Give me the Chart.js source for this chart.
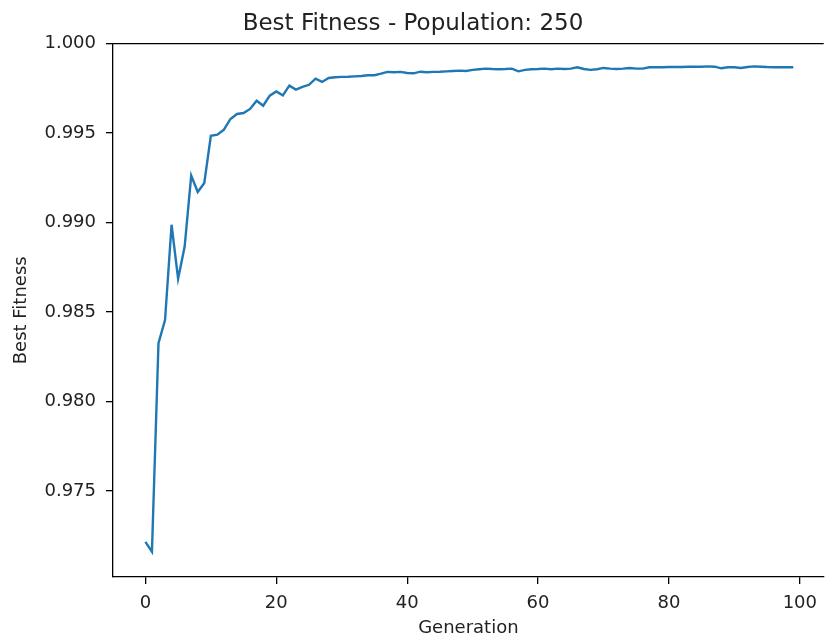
<!DOCTYPE html>
<html>
<head>
<meta charset="utf-8">
<script src="https://cdn.jsdelivr.net/npm/chart.js@4.4.1/dist/chart.umd.min.js"></script>
<style>
  html, body { margin: 0; padding: 0; background: #fff; overflow: hidden; }
  #wrap { position: absolute; left: 0; top: 0; width: 826px; height: 640px; }
</style>
</head>
<body>
<div id="wrap"><canvas id="chart" width="826" height="640"></canvas></div>
<script>
/* ── Data ── */
const bestFitness = [
  0.97216, 0.97161, 0.98326, 0.98456, 0.98988, 0.98686, 0.98866, 0.99263, 0.99171, 0.99221,
  0.99485, 0.99491, 0.99519, 0.99579, 0.99607, 0.99612, 0.99635, 0.99681, 0.99653, 0.99709,
  0.99733, 0.99711, 0.99765, 0.99743, 0.99758, 0.99770, 0.99804, 0.99786, 0.99808, 0.99812,
  0.99814, 0.99815, 0.99817, 0.99819, 0.99823, 0.99823, 0.99832, 0.99842, 0.99840, 0.99842,
  0.99836, 0.99834, 0.99843, 0.99840, 0.99842, 0.99843, 0.99845, 0.99847, 0.99849, 0.99847,
  0.99853, 0.99857, 0.99860, 0.99858, 0.99857, 0.99858, 0.99860, 0.99845, 0.99853, 0.99857,
  0.99858, 0.99860, 0.99857, 0.99860, 0.99858, 0.99860, 0.99868, 0.99858, 0.99853, 0.99857,
  0.99864, 0.99860, 0.99858, 0.99860, 0.99864, 0.99860, 0.99860, 0.99868, 0.99868, 0.99868,
  0.99869, 0.99869, 0.99869, 0.99871, 0.99871, 0.99871, 0.99873, 0.99871, 0.99862, 0.99868,
  0.99868, 0.99864, 0.99869, 0.99873, 0.99871, 0.99869, 0.99868, 0.99868, 0.99868, 0.99868
];
// generation index of each value
const generations = bestFitness.map((_, i) => i);

const xTicks = [0, 20, 40, 60, 80, 100];
const yTicks = [0.975, 0.980, 0.985, 0.990, 0.995, 1.000];

const FONT = "'DejaVu Sans', sans-serif";
const INK = "#222";

/* ── Top spine (right spine is cut off by the picture edge) ── */
const topSpine = {
  id: "topSpine",
  afterDraw(chart) {
    const { ctx, chartArea: a } = chart;
    ctx.save();
    ctx.strokeStyle = "#000";
    ctx.lineWidth = 1.3;
    ctx.beginPath();
    ctx.moveTo(a.left, a.top);
    ctx.lineTo(a.right, a.top);
    ctx.stroke();
    ctx.restore();
  }
};

const axisBase = {
  type: "linear",
  border: { display: true, color: "#000", width: 1.3 },
  grid: { display: true, drawOnChartArea: false, drawTicks: true, tickLength: 7, color: "#000", lineWidth: 1.3 },
};

new Chart(document.getElementById("chart"), {
  type: "line",
  data: {
    datasets: [{
      data: generations.map((g, i) => ({ x: g, y: bestFitness[i] })),
      borderColor: "#1f77b4",
      borderWidth: 2.4,
      pointRadius: 0,
      tension: 0,
      fill: false
    }]
  },
  options: {
    responsive: false,
    animation: false,
    layout: { padding: 0 },
    plugins: {
      legend: { display: false },
      tooltip: { enabled: false },
      title: {
        display: true,
        text: "Best Fitness - Population: 250",
        color: INK,
        font: { family: FONT, size: 23, weight: "normal" },
        padding: { top: 10, bottom: 6 }
      }
    },
    scales: {
      x: Object.assign({}, axisBase, {
        min: -4.95, max: 103.65,
        afterBuildTicks(s) { s.ticks = xTicks.map(v => ({ value: v })); },
        afterFit(s) { s.height = 63; },
        ticks: { color: INK, font: { family: FONT, size: 18 }, padding: 9, maxRotation: 0, callback: v => String(v) },
        title: { display: true, text: "Generation", color: INK, font: { family: FONT, size: 18 }, padding: { top: 0, bottom: 1 } }
      }),
      y: Object.assign({}, axisBase, {
        min: 0.9702, max: 1.0,
        afterBuildTicks(s) { s.ticks = yTicks.map(v => ({ value: v })); },
        afterFit(s) { s.width = 113; },
        ticks: { color: INK, font: { family: FONT, size: 18 }, padding: 10, callback: v => v.toFixed(3) },
        title: { display: true, text: "Best Fitness", color: INK, font: { family: FONT, size: 18 }, padding: { top: 11, bottom: 0 } }
      })
    }
  },
  plugins: [topSpine]
});
</script>
</body>
</html>
